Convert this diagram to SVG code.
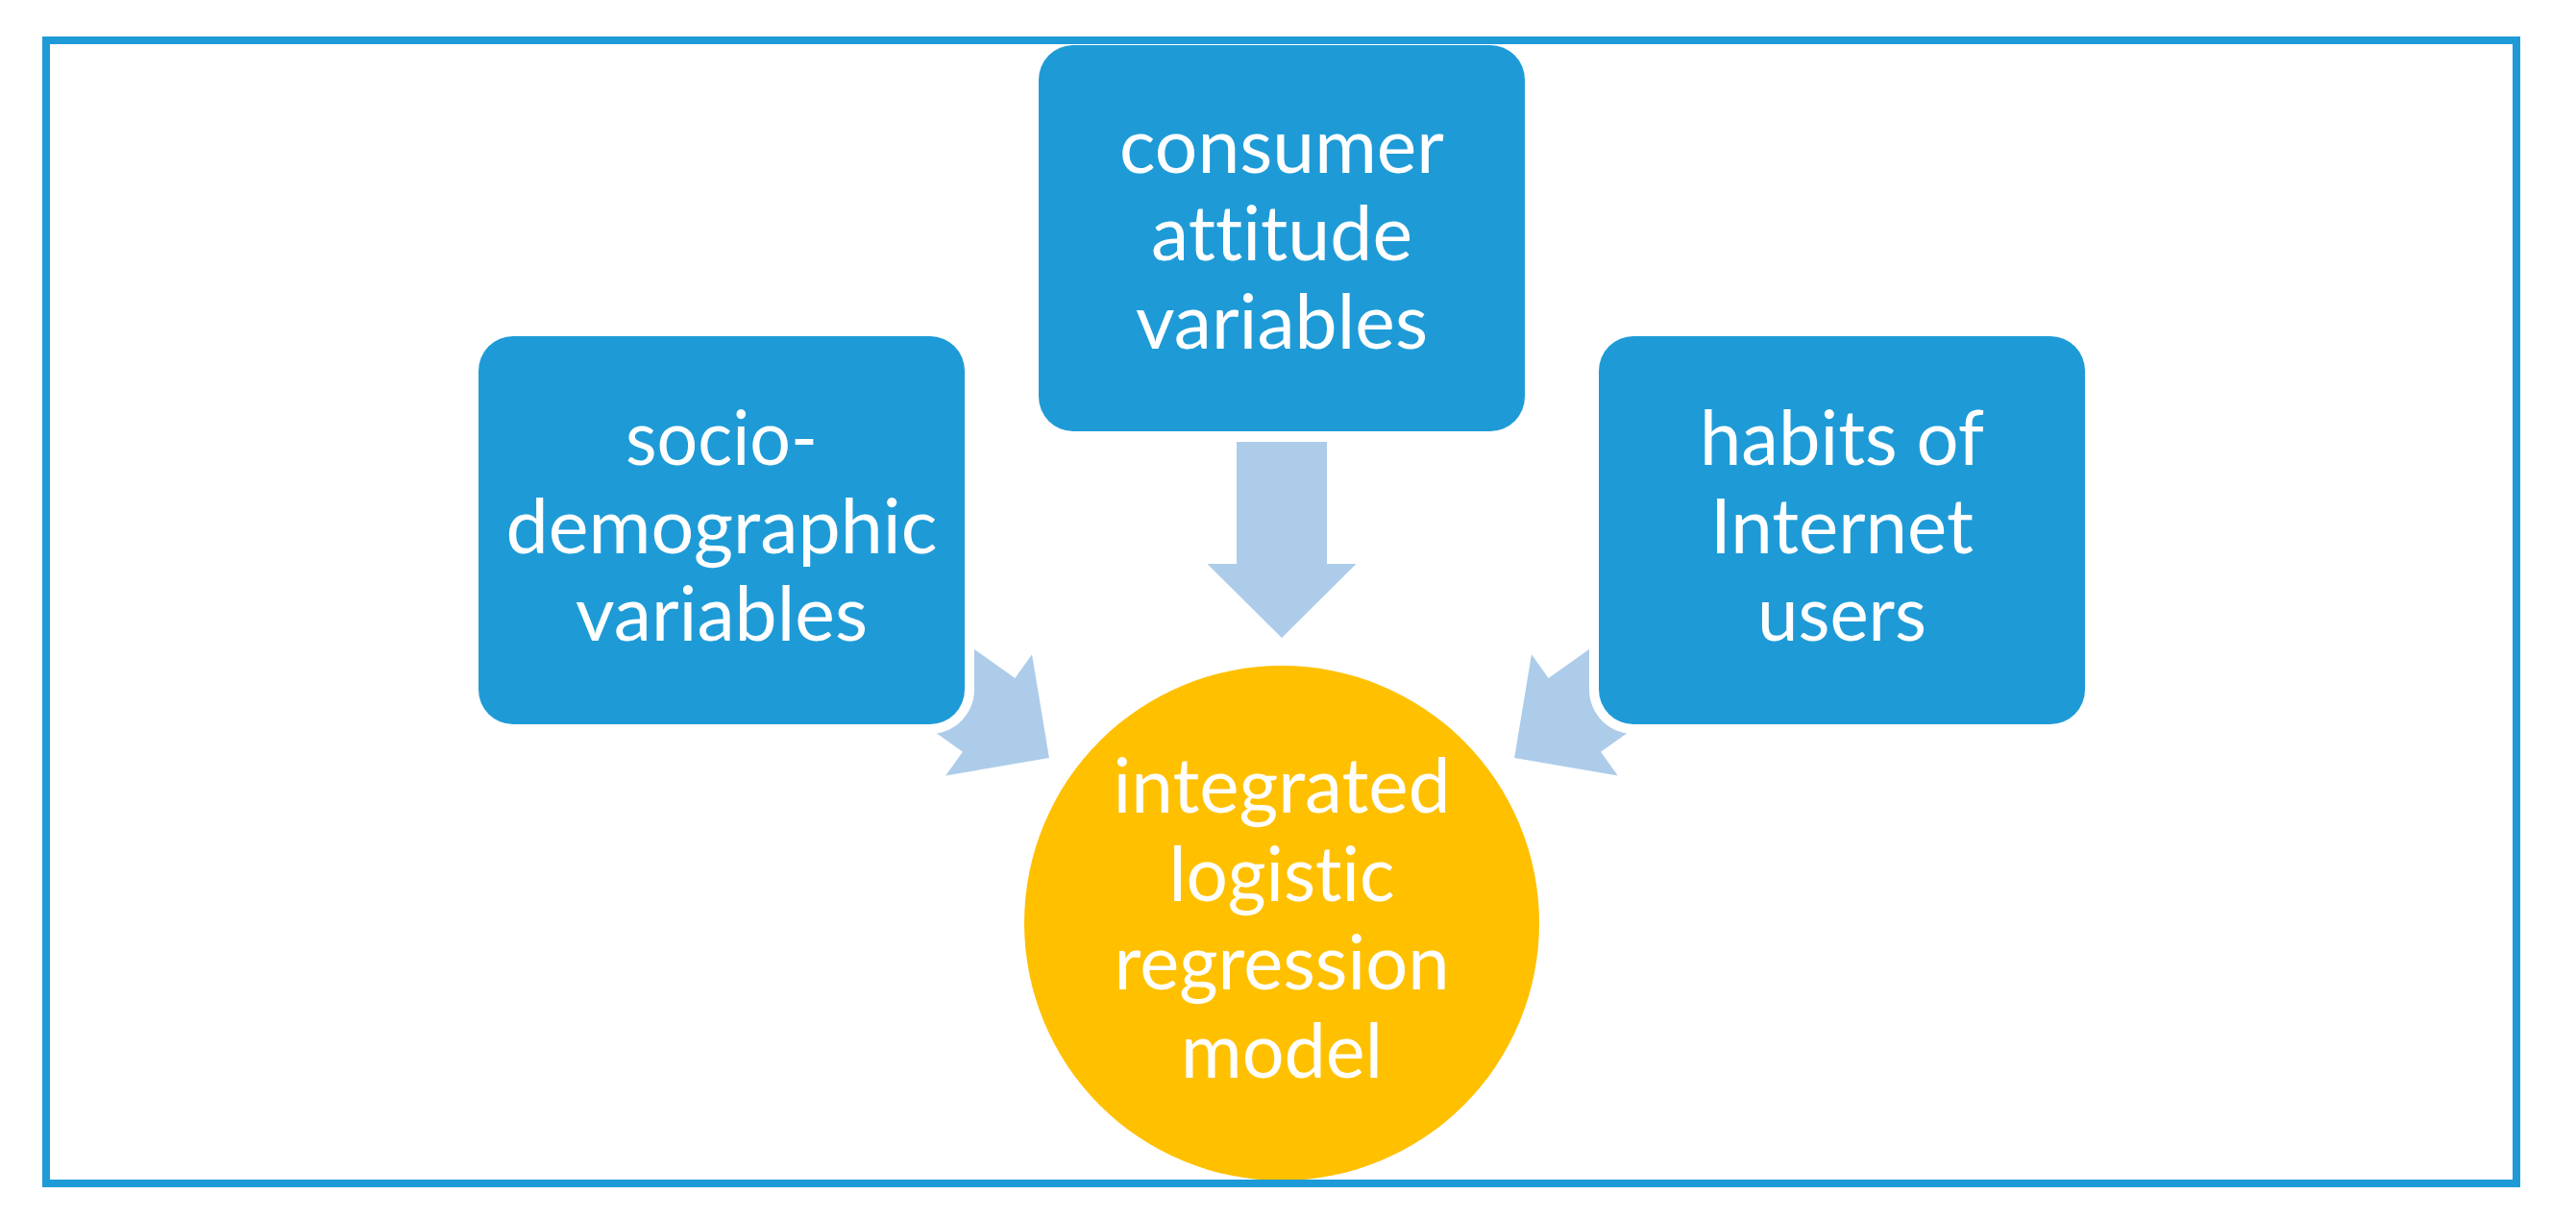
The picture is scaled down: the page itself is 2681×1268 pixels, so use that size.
<svg xmlns="http://www.w3.org/2000/svg" width="2681" height="1268" viewBox="0 0 2681 1268">
  <style>
    .halo { fill: #FFFFFF; }
    .box { fill: #1E9BD7; }
    .circ { fill: #FFC000; }
    .arrow { fill: #ADCCEA; }
    .lbl { fill: #FFFFFF; font-family: Lato, "Liberation Sans", sans-serif; font-size: 79px; text-anchor: middle; font-variant-ligatures: none; font-feature-settings: "liga" 0, "clig" 0, "dlig" 0; }
    .frame { fill: none; stroke: #1E9BD7; stroke-width: 8; }
  </style>
  <defs>
    <polygon id="arr" points="1287,460 1381,460 1381,587 1411.5,587 1334,664 1256.5,587 1287,587"/>
  </defs>
  <rect x="0" y="0" width="2681" height="1268" fill="#FFFFFF"/>

  <g id="connectors">
    <use href="#arr" class="arrow" transform="rotate(-54.6 1334 961)"/>
    <use href="#arr" class="arrow"/>
    <use href="#arr" class="arrow" transform="rotate(54.6 1334 961)"/>
  </g>

  <g id="node-socio">
    <rect class="halo" x="488" y="340" width="526" height="424" rx="46"/>
    <rect class="box" x="498" y="350" width="506" height="404" rx="36"/>
    <text class="lbl" x="751" y="484" textLength="200" lengthAdjust="spacingAndGlyphs">socio-</text>
    <text class="lbl" x="751" y="575.5" textLength="449" lengthAdjust="spacingAndGlyphs">demographic</text>
    <text class="lbl" x="751" y="667" textLength="304" lengthAdjust="spacingAndGlyphs">variables</text>
  </g>

  <g id="node-consumer">
    <rect class="halo" x="1071" y="37" width="526" height="422" rx="46"/>
    <rect class="box" x="1081" y="47" width="506" height="402" rx="36"/>
    <text class="lbl" x="1334" y="179.5" textLength="338" lengthAdjust="spacingAndGlyphs">consumer</text>
    <text class="lbl" x="1334" y="271" textLength="272" lengthAdjust="spacingAndGlyphs">attitude</text>
    <text class="lbl" x="1334" y="362.5" textLength="304" lengthAdjust="spacingAndGlyphs">variables</text>
  </g>

  <g id="node-habits">
    <rect class="halo" x="1654" y="340" width="526" height="424" rx="46"/>
    <rect class="box" x="1664" y="350" width="506" height="404" rx="36"/>
    <text class="lbl" x="1917" y="484" textLength="296" lengthAdjust="spacingAndGlyphs">habits of</text>
    <text class="lbl" x="1917" y="575.5" textLength="274" lengthAdjust="spacingAndGlyphs">Internet</text>
    <text class="lbl" x="1917" y="667" textLength="176" lengthAdjust="spacingAndGlyphs">users</text>
  </g>

  <g id="node-model">
    <circle class="circ" cx="1334" cy="961" r="268"/>
    <text class="lbl" x="1334" y="846" textLength="351" lengthAdjust="spacingAndGlyphs">integrated</text>
    <text class="lbl" x="1334" y="938" textLength="235" lengthAdjust="spacingAndGlyphs">logistic</text>
    <text class="lbl" x="1334" y="1030" textLength="349" lengthAdjust="spacingAndGlyphs">regression</text>
    <text class="lbl" x="1334" y="1122" textLength="210" lengthAdjust="spacingAndGlyphs">model</text>
  </g>

  <rect class="frame" x="48" y="42" width="2571" height="1190"/>
</svg>
